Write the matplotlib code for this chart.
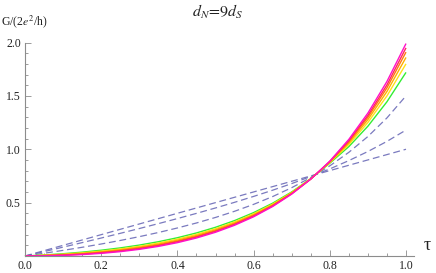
import matplotlib
matplotlib.use("Agg")
import matplotlib.pyplot as plt
from matplotlib.ticker import MultipleLocator, FixedLocator

tau = [0.0, 0.05, 0.10, 0.15, 0.20, 0.25, 0.30, 0.35, 0.40, 0.45, 0.50,
       0.55, 0.60, 0.65, 0.70, 0.75, 0.80, 0.85, 0.90, 0.95, 1.0]

# dashed (blue) curves
dash_a = [0.0, 0.05, 0.10, 0.15, 0.20, 0.25, 0.30, 0.35, 0.40, 0.45, 0.50,
          0.55, 0.60, 0.65, 0.70, 0.75, 0.80, 0.85, 0.90, 0.95, 1.0]
dash_b = [0.0, 0.0412, 0.0830, 0.1254, 0.1684, 0.2123, 0.2572, 0.3032, 0.3505, 0.3993, 0.4500,
          0.5028, 0.5581, 0.6164, 0.6784, 0.7446, 0.8160, 0.8937, 0.9790, 1.0737, 1.18]
dash_c = [0.0, 0.0257, 0.0528, 0.0816, 0.1124, 0.1454, 0.1812, 0.2200, 0.2625, 0.3093, 0.3611,
          0.4189, 0.4837, 0.5568, 0.6400, 0.7350, 0.8444, 0.9713, 1.1194, 1.2936, 1.50]

# solid (rainbow) curves
green = [0.0, 0.0095, 0.0214, 0.0361, 0.0542, 0.0759, 0.1022, 0.1337, 0.1712, 0.2159, 0.2689,
         0.3318, 0.4064, 0.4949, 0.6001, 0.7250, 0.8690, 1.0247, 1.2159, 1.4448, 1.72]
yellow = [0.0, 0.0071, 0.0168, 0.0295, 0.0457, 0.0659, 0.0908, 0.1212, 0.1580, 0.2024, 0.2555,
          0.3193, 0.3952, 0.4860, 0.5943, 0.7236, 0.8747, 1.0441, 1.2510, 1.4998, 1.80]
gold = [0.0, 0.0054, 0.0134, 0.0246, 0.0394, 0.0584, 0.0823, 0.1118, 0.1481, 0.1922, 0.2455,
        0.3098, 0.3868, 0.4793, 0.5900, 0.7225, 0.8789, 1.0586, 1.2774, 1.5410, 1.86]
orange = [0.0, 0.0039, 0.0106, 0.0205, 0.0342, 0.0521, 0.0751, 0.1040, 0.1399, 0.1838, 0.2372,
          0.3020, 0.3799, 0.4737, 0.5864, 0.7216, 0.8825, 1.0708, 1.2993, 1.5754, 1.91]
red = [0.0, 0.0028, 0.0083, 0.0172, 0.0300, 0.0471, 0.0694, 0.0978, 0.1333, 0.1770, 0.2305,
       0.2957, 0.3743, 0.4692, 0.5835, 0.7209, 0.8853, 1.0805, 1.3169, 1.6028, 1.95]
magenta = [0.0, 0.0013, 0.0055, 0.0131, 0.0247, 0.0408, 0.0623, 0.0900, 0.1250, 0.1686, 0.2222,
           0.2878, 0.3673, 0.4636, 0.5799, 0.7200, 0.8889, 1.0926, 1.3388, 1.6350, 1.99]

x_ticks = [0.0, 0.2, 0.4, 0.6, 0.8, 1.0]
x_labels = ["0.0", "0.2", "0.4", "0.6", "0.8", "1.0"]
y_ticks = [0.5, 1.0, 1.5, 2.0]
y_labels = ["0.5", "1.0", "1.5", "2.0"]

plt.rcParams['font.family'] = ['Liberation Serif', 'DejaVu Serif']
plt.rcParams['mathtext.fontset'] = 'stix'

W, H = 436, 273
fig = plt.figure(figsize=(W / 100, H / 100), dpi=100)
x0, x1 = 25, 406
y0, y2 = 256, 42.5
ax = fig.add_axes([x0 / W, (H - y0) / H, 1.02 * (x1 - x0) / W, (y0 - y2) / H])
ax.set_xlim(0, 1.02)
ax.set_ylim(0, 2.0)

dcol = '#6c6cb8'
for ys in (dash_a, dash_b, dash_c):
    ax.plot(tau, ys, color=dcol, lw=0.9, dashes=(5.5, 3), clip_on=False, alpha=0.9)

solid = [(green, '#33ee33'), (yellow, '#ffe21a'), (gold, '#ffb000'),
         (orange, '#ff7a10'), (red, '#ff2a5a'), (magenta, '#ff10c8')]
for ys, c in solid:
    ax.plot(tau, ys, color=c, lw=1.0, clip_on=False, solid_capstyle='butt')

for s in ('top', 'right'):
    ax.spines[s].set_visible(False)
for s in ('left', 'bottom'):
    ax.spines[s].set_color('#8c8c8c')
    ax.spines[s].set_linewidth(0.8)

ax.xaxis.set_major_locator(FixedLocator(x_ticks))
ax.set_xticklabels(x_labels)
ax.xaxis.set_minor_locator(MultipleLocator(0.05))
ax.yaxis.set_major_locator(FixedLocator(y_ticks))
ax.set_yticklabels(y_labels)
ax.yaxis.set_minor_locator(MultipleLocator(0.1))
ax.tick_params(which='both', direction='in', colors='#8c8c8c', labelcolor='#222222',
               labelsize=8.5, width=0.6)
ax.tick_params(which='major', length=4, pad=3)
ax.tick_params(which='minor', length=2)

fig.text(218 / W, 1 - 12 / H, r'$d_N\!=\!9d_S$', ha='center', va='center', fontsize=11.5, color='#222222')
fig.text(1 / W, 1 - 22 / H, r'G/(2$e^2$/h)', ha='left', va='center', fontsize=8.5, color='#222222')
fig.text(427 / W, 1 - 246 / H, 'τ', ha='center', va='center', fontsize=13, color='#222222')

fig.savefig('out.png', dpi=100)
